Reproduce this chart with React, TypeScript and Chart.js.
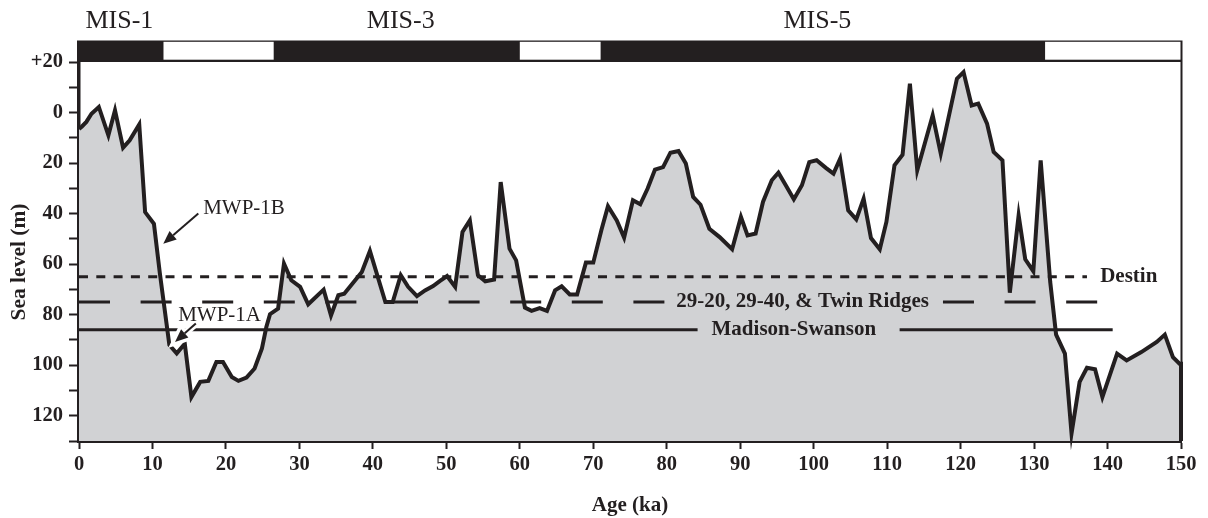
import React, { useEffect, useRef } from 'react';
import { Chart, registerables } from 'chart.js';

Chart.register(...registerables);

// ---- Sea-level curve (age in ka, depth in m below present) ----
const ages = [
  0, 0.4, 1.0, 1.7, 2.7, 4.0, 4.9, 6.0, 6.9, 8.2, 9.0, 10.2, 11.0, 12.3, 13.3, 14.4,
  15.3, 16.5, 17.6, 18.7, 19.6, 20.8, 21.7, 22.8, 23.9, 24.9, 25.5, 26.0, 27.1, 27.9,
  28.9, 30.1, 31.2, 33.3, 34.3, 35.3, 36.1, 38.5, 39.6, 41.7, 42.7, 43.8, 44.8, 46.0,
  47.1, 48.2, 49.1, 50.1, 51.2, 52.2, 53.2, 54.3, 55.3, 56.5, 57.4, 58.6, 59.5, 60.7,
  61.6, 62.7, 63.7, 64.8, 65.7, 66.8, 67.8, 69.0, 70.0, 71.1, 72.0, 73.2, 74.2, 75.4,
  76.4, 77.4, 78.4, 79.5, 80.5, 81.6, 82.6, 83.6, 84.6, 85.8, 87.2, 88.9, 90.1, 91.0,
  92.1, 93.1, 94.3, 95.2, 96.2, 97.3, 98.4, 99.4, 100.4, 101.7, 102.7, 103.6, 104.7,
  105.8, 106.8, 107.8, 109.0, 109.9, 111.0, 112.1, 113.1, 114.1, 116.2, 117.3, 119.5,
  120.4, 121.5, 122.4, 123.6, 124.5, 125.7, 126.7, 127.9, 128.8, 129.9, 130.9, 132.2,
  133.0, 134.2, 135.1, 136.2, 137.2, 138.3, 139.3, 141.3, 142.6, 144.6, 146.7, 147.8,
  148.9, 149.8, 150, 150,
];
const seaLevels = [
  6.5, 5.5, 3.7, 0.5, -2.2, 9, -0.9, 13.9, 11, 4.7, 39.4, 44, 63.5, 92, 95.3, 91.5,
  112.6, 106.6, 106.2, 98.7, 98.7, 104.7, 106.2, 104.9, 101.3, 93.4, 84.9, 79.8, 77.6, 59.8,
  66.4, 69, 75.9, 70.1, 80.3, 72.3, 71.7, 63.1, 54.8, 75, 75, 64.4, 69, 72.7,
  70.4, 68.7, 66.7, 64.7, 69, 47.3, 42.7, 64.4, 66.8, 66.1, 27.5, 53.9, 58.5, 77.2,
  78.5, 77.4, 78.5, 70.4, 68.8, 72, 72, 59.4, 59.4, 46.6, 37.1, 42.7, 49.5, 34.7,
  36.3, 30.1, 22.6, 21.6, 15.9, 15.2, 20.2, 33.4, 36.5, 46, 49.3, 54.1, 41.3, 48.6,
  47.9, 35.4, 26.8, 23.8, 28.8, 34.3, 28.8, 19.6, 18.9, 22, 24.2, 18.3, 38.7,
  42.3, 34.1, 49.7, 54.1, 43.3, 20.9, 16.7, -11.4, 22.9, 1.1, 16.3, -13.4,
  -16.0, -2.8, -3.5, 4.4, 15.6, 18.9, 71.3, 40.7, 58.1, 62.8, 18.9, 67.1,
  87.9, 95.4, 127, 106.6, 101, 101.6, 112.6, 95.4, 98.1, 94.8, 90.8, 87.9,
  96.8, 99.4, 99.4, 130,
];

// ---- Axes ----
const xTickValues = [0, 10, 20, 30, 40, 50, 60, 70, 80, 90, 100, 110, 120, 130, 140, 150];
const yLabelValues = [-20, 0, 20, 40, 60, 80, 100, 120];
const yLabelTexts = ['+20', '0', '20', '40', '60', '80', '100', '120'];
const yMin = -20;
const yMax = 130;

// ---- Marine isotope stage bar ----
const misBoundaries = [0, 11.5, 26.5, 60, 71, 131.5, 150];
const misFilled = [true, false, true, false, true, false];
const misLabels = ['MIS-1', 'MIS-3', 'MIS-5'];
const misLabelAges = [5.5, 43.8, 100.5];

// ---- Reference levels ----
const refNames = ['Destin', '29-20, 29-40, & Twin Ridges', 'Madison-Swanson'];
const refDepths = [65, 75, 86];
const refSegments = [
  [[0, 137.2]],
  [[0, 79.8], [117.6, 138.6]],
  [[0, 84.2], [111.7, 140.7]],
];
const refLabelAges = [139, 98.5, 97.3];
const refLabelAlign = ['left', 'center', 'center'];
const refDash = [[9, 8.3], [31, 30.6], []];

// ---- Meltwater pulse annotations ----
const annTexts = ['MWP-1B', 'MWP-1A'];
const annTextAges = [16.9, 13.5];
const annTextLevels = [37.8, 80.3];
const annTailAges = [16.24, 15.9];
const annTailLevels = [40, 83.5];
const annTipAges = [11.47, 13.07];
const annTipLevels = [51.9, 90.8];

const INK = '#231f20';
const FILL = '#d1d2d4';
const SERIF = "'Liberation Serif', 'Times New Roman', serif";

const overlayPlugin = {
  id: 'overlay',
  afterDatasetDraw(chart: any, args: any) {
    if (args.index !== 0) return;
    const { ctx, scales } = chart;
    const xs = scales.x;
    const ys = scales.y;
    ctx.save();
    refDepths.forEach((d, i) => {
      const y = ys.getPixelForValue(d);
      ctx.strokeStyle = INK;
      ctx.lineWidth = 3;
      ctx.lineCap = 'butt';
      ctx.setLineDash(refDash[i]);
      refSegments[i].forEach((seg) => {
        ctx.beginPath();
        ctx.moveTo(xs.getPixelForValue(seg[0]), y);
        ctx.lineTo(xs.getPixelForValue(seg[1]), y);
        ctx.stroke();
      });
      ctx.setLineDash([]);
      ctx.fillStyle = INK;
      ctx.font = `bold 21px ${SERIF}`;
      ctx.textAlign = refLabelAlign[i];
      ctx.textBaseline = 'middle';
      ctx.fillText(refNames[i], xs.getPixelForValue(refLabelAges[i]), y);
    });
    ctx.restore();
  },
  afterDraw(chart: any) {
    const { ctx, scales, chartArea } = chart;
    const xs = scales.x;
    const ys = scales.y;
    ctx.save();
    // MIS bar
    const barTop = 40.5;
    const barBottom = chartArea.top;
    ctx.fillStyle = INK;
    ctx.fillRect(chartArea.left - 2, barTop, chartArea.right - chartArea.left + 3.5, barBottom - barTop);
    for (let i = 0; i < misFilled.length; i++) {
      if (misFilled[i]) continue;
      const x0 = xs.getPixelForValue(misBoundaries[i]);
      const x1 = xs.getPixelForValue(misBoundaries[i + 1]);
      ctx.fillStyle = '#ffffff';
      ctx.fillRect(x0, barTop + 1.3, Math.min(x1, chartArea.right - 0.5) - x0, barBottom - barTop - 3.6);
    }
    ctx.fillStyle = INK;
    ctx.font = `26px ${SERIF}`;
    ctx.textAlign = 'center';
    ctx.textBaseline = 'alphabetic';
    misLabels.forEach((t, i) => ctx.fillText(t, xs.getPixelForValue(misLabelAges[i]), 28));

    // right frame
    ctx.strokeStyle = INK;
    ctx.lineWidth = 2;
    ctx.beginPath();
    ctx.moveTo(chartArea.right + 0.5, chartArea.top);
    ctx.lineTo(chartArea.right + 0.5, chartArea.bottom);
    ctx.stroke();

    // annotations
    annTexts.forEach((t, i) => {
      const tx = xs.getPixelForValue(annTailAges[i]);
      const ty = ys.getPixelForValue(annTailLevels[i]);
      const px = xs.getPixelForValue(annTipAges[i]);
      const py = ys.getPixelForValue(annTipLevels[i]);
      const ang = Math.atan2(py - ty, px - tx);
      const head = 13;
      const half = 5.5;
      const bx = px - head * Math.cos(ang);
      const by = py - head * Math.sin(ang);
      const nx = -Math.sin(ang);
      const ny = Math.cos(ang);
      const drawArrow = (color: string, extra: number) => {
        ctx.strokeStyle = color;
        ctx.fillStyle = color;
        ctx.lineWidth = 2 + extra;
        ctx.lineJoin = 'miter';
        ctx.beginPath();
        ctx.moveTo(tx, ty);
        ctx.lineTo(bx, by);
        ctx.stroke();
        ctx.beginPath();
        ctx.moveTo(px, py);
        ctx.lineTo(bx + nx * half, by + ny * half);
        ctx.lineTo(bx - nx * half, by - ny * half);
        ctx.closePath();
        ctx.fill();
        if (extra > 0) ctx.stroke();
      };
      if (i === 1) drawArrow('#ffffff', 5);
      drawArrow(INK, 0);
      ctx.fillStyle = INK;
      ctx.font = `21px ${SERIF}`;
      ctx.textAlign = 'left';
      ctx.textBaseline = 'middle';
      ctx.fillText(t, xs.getPixelForValue(annTextAges[i]), ys.getPixelForValue(annTextLevels[i]));
    });

    // y axis title
    ctx.translate(19, 262);
    ctx.rotate(-Math.PI / 2);
    ctx.fillStyle = INK;
    ctx.font = `bold 21.5px ${SERIF}`;
    ctx.textAlign = 'center';
    ctx.textBaseline = 'middle';
    ctx.fillText('Sea level (m)', 0, 0);
    ctx.restore();
  },
};

export default function App() {
  const canvasRef = useRef<HTMLCanvasElement | null>(null);

  useEffect(() => {
    if (!canvasRef.current) return;
    const points = ages.map((a, i) => ({ x: a, y: seaLevels[i] }));
    const chart = new Chart(canvasRef.current, {
      type: 'line',
      data: {
        datasets: [
          {
            label: 'fill',
            data: points,
            borderWidth: 0,
            pointRadius: 0,
            backgroundColor: FILL,
            fill: { value: yMax },
            order: 2,
            clip: false,
          },
          {
            label: 'Sea level',
            data: points,
            borderColor: INK,
            borderWidth: 4,
            pointRadius: 0,
            fill: false,
            tension: 0,
            borderJoinStyle: 'miter',
            order: 1,
            clip: false,
          },
        ],
      },
      options: {
        responsive: false,
        animation: false,
        devicePixelRatio: 1,
        layout: { padding: { top: 62, right: 27, left: 0, bottom: 0 } },
        plugins: {
          legend: { display: false },
          tooltip: { enabled: false },
        },
        scales: {
          x: {
            type: 'linear',
            min: 0,
            max: 150,
            afterFit: (s: any) => { s.height = 77; },
            afterBuildTicks: (s: any) => { s.ticks = xTickValues.map((v) => ({ value: v })); },
            ticks: {
              color: INK,
              font: { family: SERIF, size: 20.5, weight: 'bold' },
              padding: 3,
              maxRotation: 0,
              autoSkip: false,
            },
            grid: {
              drawOnChartArea: false,
              drawTicks: true,
              tickLength: 8,
              tickWidth: 2,
              tickColor: INK,
            },
            border: { display: true, width: 4, color: INK },
            title: {
              display: true,
              text: 'Age (ka)',
              color: INK,
              font: { family: SERIF, size: 21, weight: 'bold' },
              padding: { top: 0, bottom: 0 },
            },
          },
          y: {
            type: 'linear',
            min: yMin,
            max: yMax,
            reverse: true,
            afterFit: (s: any) => { s.width = 79; },
            ticks: {
              stepSize: 10,
              color: INK,
              font: { family: SERIF, size: 20.5, weight: 'bold' },
              padding: 6,
              autoSkip: false,
              callback: (v: any) => {
                const k = yLabelValues.indexOf(Number(v));
                return k >= 0 ? yLabelTexts[k] : '';
              },
            },
            grid: {
              drawOnChartArea: false,
              drawTicks: true,
              tickLength: 10,
              tickWidth: 2,
              tickColor: INK,
            },
            border: { display: true, width: 3.5, color: INK },
          },
        },
      },
      plugins: [overlayPlugin],
    } as any);
    return () => chart.destroy();
  }, []);

  return (
    <div style={{ position: 'absolute', left: 0, top: 0, width: 1208, height: 518, background: '#fff' }}>
      <canvas ref={canvasRef} width={1208} height={518} style={{ display: 'block' }} />
    </div>
  );
}
